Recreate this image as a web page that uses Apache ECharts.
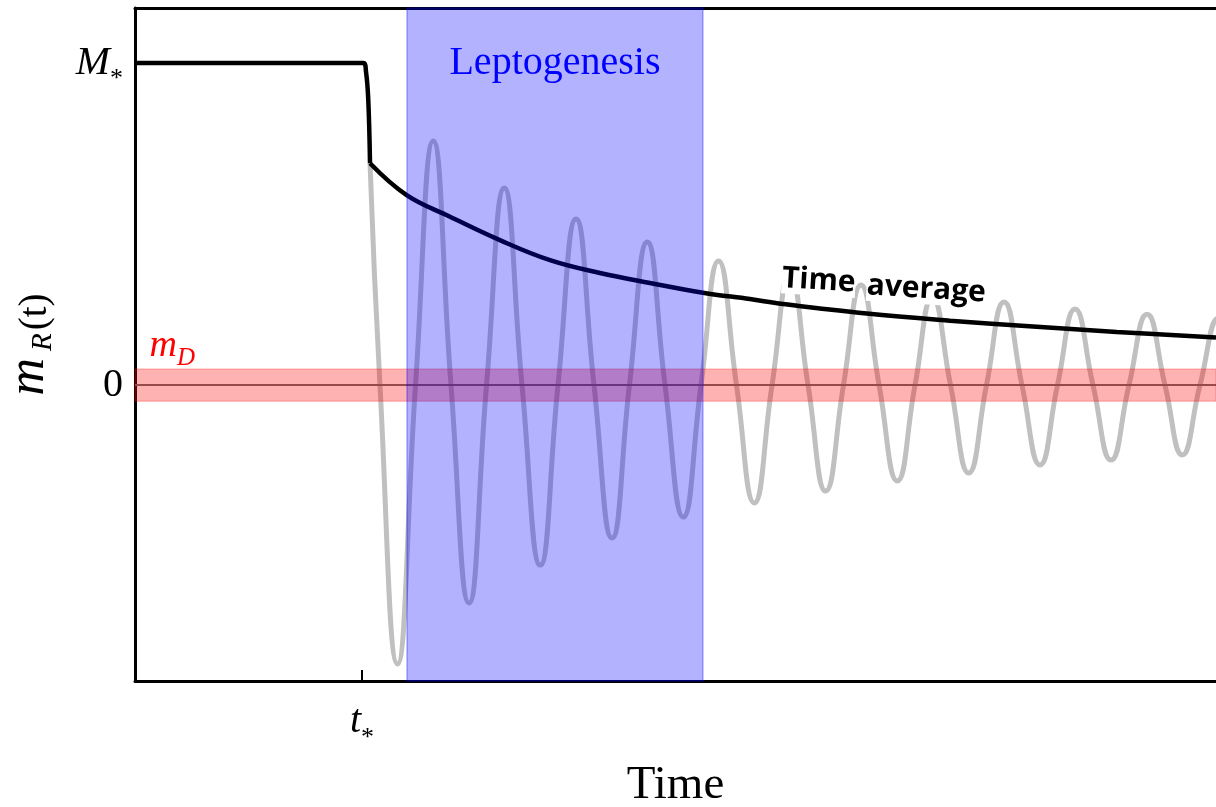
<!DOCTYPE html>
<html>
<head>
<meta charset="utf-8">
<title>m_R(t) - Time</title>
<script src="https://cdn.jsdelivr.net/npm/echarts@6/dist/echarts.min.js"></script>
<style>
    html, body { margin: 0; padding: 0; background: #fff; }
    #main { width: 1216px; height: 807px; }
</style>
</head>
<body>
<div id="main"></div>
<script>
    // time in arbitrary units (axis 0..10), m_R in units of M*
    var tStar = 2.1;
    var leptoStart = 2.516;
    var leptoEnd = 5.254;
    var mDHalfWidth = 0.05;

    var xTickValues = [tStar];
    var xTickLabels = ['{t|t}{s|*}'];
    var yTickValues = [0, 1];
    var yTickLabels = ['{n|0}', '{M|M}{s|*}'];

    // black curve, before and after t*
    var massBefore = [[0, 1], [2.112, 1], [2.137, 0.973], [2.158, 0.885], [2.174, 0.689]];
    var timeAverage = [
        [2.174, 0.689], [2.513, 0.590], [2.914, 0.523], [3.376, 0.450], [3.839, 0.388],
        [4.301, 0.348], [4.764, 0.317], [5.254, 0.287], [5.689, 0.267], [5.994, 0.252],
        [6.769, 0.222], [7.539, 0.200], [8.307, 0.182], [9.081, 0.165], [10.0, 0.148]
    ];
    // grey oscillation: extrema and zero crossings
    var mOscillation = [
        [2.174, 0.689], [2.266, 0], [2.428, -0.866], [2.595, 0], [2.759, 0.758],
        [2.923, 0], [3.090, -0.677], [3.252, 0], [3.416, 0.612], [3.580, 0],
        [3.749, -0.559], [3.913, 0], [4.080, 0.516], [4.246, 0], [4.413, -0.475],
        [4.574, 0], [4.739, 0.444], [4.903, 0], [5.072, -0.410], [5.236, 0],
        [5.398, 0.385], [5.564, 0], [5.729, -0.366], [5.893, 0], [6.059, 0.348],
        [6.226, 0], [6.389, -0.329], [6.554, 0], [6.716, 0.311], [6.883, 0],
        [7.052, -0.298], [7.216, 0], [7.376, 0.273], [7.544, 0], [7.712, -0.273],
        [7.877, 0], [8.039, 0.258], [8.205, 0], [8.372, -0.248], [8.534, 0],
        [8.696, 0.236], [8.862, 0], [9.029, -0.233], [9.195, 0], [9.362, 0.220],
        [9.528, 0], [9.688, -0.217], [9.852, 0], [10.023, 0.208], [10.185, 0]
    ];
    var zeroLine = [[0, 0], [10, 0]];

    var serif = '"Liberation Serif", "Times New Roman", serif';
    var sub = { fontFamily: serif, fontSize: 26, lineHeight: 10, verticalAlign: 'top', color: '#000' };

    function pick(values, labels) {
        return function (v) {
            for (var i = 0; i < values.length; i++) {
                if (Math.abs(values[i] - v) < 1e-6) return labels[i];
            }
            return '';
        };
    }

    var myChart = echarts.init(document.getElementById('main'));
    var option = {
        animation: false,
        backgroundColor: '#fff',
        grid: { left: 135, right: 0, top: 8, bottom: 126, containLabel: false, outerBoundsMode: 'none' },
        xAxis: [{
            type: 'value', min: 0, max: 10, position: 'bottom',
            name: 'Time', nameLocation: 'middle', nameGap: 81,
            nameTextStyle: { fontFamily: serif, fontSize: 47, color: '#000' },
            axisLine: { onZero: false, lineStyle: { color: '#000', width: 3 } },
            axisTick: { show: true, inside: true, length: 11, customValues: xTickValues, lineStyle: { color: '#000', width: 2 } },
            axisLabel: {
                customValues: xTickValues, margin: 20,
                formatter: pick(xTickValues, xTickLabels),
                rich: {
                    t: { fontFamily: serif, fontSize: 40, fontStyle: 'italic', lineHeight: 40, color: '#000' },
                    s: Object.assign({}, sub, { padding: [24, 0, 0, 0] })
                }
            },
            splitLine: { show: false }
        }, {
            type: 'value', min: 0, max: 10, position: 'top',
            axisLine: { show: true, onZero: false, lineStyle: { color: '#000', width: 3 } },
            axisTick: { show: false }, axisLabel: { show: false }, splitLine: { show: false }
        }],
        yAxis: {
            type: 'value', min: -0.919, max: 1.171,
            name: '{m|m}{R|R}{p|(t)}', nameLocation: 'middle', nameGap: 80, nameRotate: 90,
            nameTextStyle: {
                rich: {
                    m: { fontFamily: serif, fontStyle: 'italic', fontSize: 52, lineHeight: 50, verticalAlign: 'bottom', padding: [0, 3, 0, 0], color: '#000' },
                    R: { fontFamily: serif, fontStyle: 'italic', fontSize: 29, lineHeight: 10, verticalAlign: 'top', padding: [24, 3, 0, 4], color: '#000' },
                    p: { fontFamily: serif, fontSize: 39, lineHeight: 50, verticalAlign: 'bottom', color: '#000' }
                }
            },
            axisLine: { show: true, onZero: false, lineStyle: { color: '#000', width: 3 } },
            axisTick: { show: false },
            axisLabel: {
                customValues: yTickValues, margin: 12,
                formatter: pick(yTickValues, yTickLabels),
                rich: {
                    n: { fontFamily: serif, fontSize: 40, lineHeight: 40, color: '#000' },
                    M: { fontFamily: serif, fontSize: 41, fontStyle: 'italic', lineHeight: 40, color: '#000' },
                    s: Object.assign({}, sub, { padding: [23, 0, 0, 0] })
                }
            },
            splitLine: { show: false }
        },
        series: [
            {
                name: 'oscillation', type: 'line', data: mOscillation, smooth: 0.5, symbol: 'none',
                lineStyle: { color: '#c0c0c0', width: 5 }, silent: true, z: 2
            },
            {
                name: 'before', type: 'line', data: massBefore, smooth: 0.4, symbol: 'none',
                lineStyle: { color: '#000', width: 4.5 }, silent: true, z: 3
            },
            {
                name: 'Time average', type: 'line', data: timeAverage, smooth: 0.4, symbol: 'none',
                lineStyle: { color: '#000', width: 4.5 }, silent: true, z: 3
            },
            {
                name: 'zero', type: 'line', data: zeroLine, symbol: 'none',
                lineStyle: { color: '#6a6a6a', width: 2 }, silent: true, z: 3,
                markArea: {
                    silent: true, z: 10,
                    data: [
                        [{
                            yAxis: -mDHalfWidth,
                            itemStyle: { color: 'rgba(255,0,0,0.3)', borderColor: 'rgba(255,0,0,0.3)', borderWidth: 1, opacity: 1 },
                            label: {
                                show: true, position: [15, -42], formatter: '{m|m}{D|D}',
                                rich: {
                                    m: { fontFamily: serif, fontStyle: 'italic', fontSize: 38, lineHeight: 40, color: '#ff0000' },
                                    D: { fontFamily: serif, fontStyle: 'italic', fontSize: 25, lineHeight: 10, verticalAlign: 'top', padding: [19, 0, 0, 0], color: '#ff0000' }
                                }
                            }
                        }, { yAxis: mDHalfWidth }],
                        [{
                            xAxis: leptoStart,
                            itemStyle: { color: 'rgba(0,0,255,0.3)', borderColor: 'rgba(0,0,255,0.3)', borderWidth: 1.5, opacity: 1 },
                            label: {
                                show: true, position: 'insideTop', distance: 36, formatter: 'Leptogenesis',
                                fontFamily: serif, fontSize: 40, color: '#0000ff'
                            }
                        }, { xAxis: leptoEnd }]
                    ]
                }
            }
        ],
        graphic: [
            {
                type: 'text', x: 782, y: 278.4, rotation: -0.062, z: 100, silent: true,
                style: { text: 'Time', fontFamily: '"Open Sans"', fontWeight: 'bold', fontSize: 30, fill: '#000',
                    align: 'left', verticalAlign: 'middle', backgroundColor: '#fff' }
            },
            {
                type: 'text', x: 866.7, y: 285.7, rotation: -0.062, z: 100, silent: true,
                style: { text: 'average', fontFamily: '"Open Sans"', fontWeight: 'bold', fontSize: 30, fill: '#000',
                    align: 'left', verticalAlign: 'middle', backgroundColor: '#fff' }
            }
        ]
    };
    myChart.setOption(option);
</script>
</body>
</html>
